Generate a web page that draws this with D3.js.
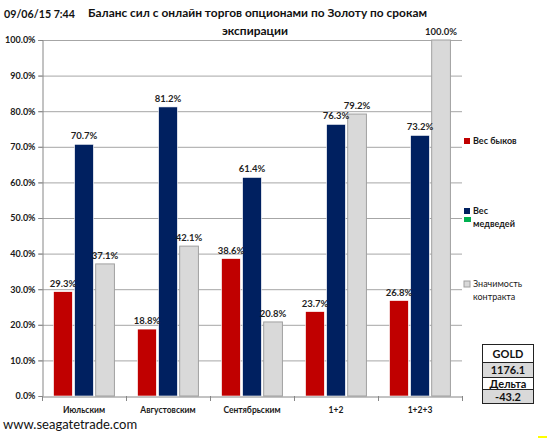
<!DOCTYPE html>
<html><head><meta charset="utf-8">
<script src="https://cdn.jsdelivr.net/npm/d3@7"></script>
<style>body{margin:0;background:#fff}svg{display:block}text{font-family:Lato,"Liberation Sans",sans-serif}</style>
</head><body>
<script>
const categories = ["Июльским","Августовским","Сентябрьским","1+2","1+2+3"];
const bulls = [29.3, 18.8, 38.6, 23.7, 26.8];
const bears = [70.7, 81.2, 61.4, 76.3, 73.2];
const significance = [37.1, 42.1, 20.8, 79.2, 100.0];
const seriesNames = ["Вес быков","Вес медведей","Значимость контракта"];
const yTicks = [0,10,20,30,40,50,60,70,80,90,100];
const goldTable = ["GOLD","1176.1","Дельта","-43.2"];

const W=550,H=440;
const svg=d3.select("body").append("svg").attr("width",W).attr("height",H);
const x0=42,x1=462,yTop=40,yBot=396;
const x=d3.scaleBand().domain(categories).range([x0,x1]).paddingInner(0).paddingOuter(0);
const xs=d3.scaleBand().domain([0,1,2]).range([0,x.bandwidth()]).paddingInner(0.11).paddingOuter(0.55);
const y=d3.scaleLinear().domain([0,100]).range([yBot,yTop]);

// gridlines
svg.append("g").selectAll("line").data(yTicks.filter(d=>d>0)).join("line")
 .attr("x1",x0-4).attr("x2",x1).attr("y1",d=>y(d)+0.5).attr("y2",d=>y(d)+0.5)
 .attr("stroke","#a6a6a6").attr("stroke-width",1);

// y axis
const yAx=svg.append("g").attr("transform",`translate(${x0+0.5},0)`)
 .call(d3.axisLeft(y).tickValues(yTicks).tickSize(4).tickFormat(d=>d.toFixed(1)+"%"));
yAx.select(".domain").attr("stroke","#868686");
yAx.selectAll(".tick line").attr("stroke","#868686");
yAx.selectAll(".tick text").attr("font-size",9).attr("font-weight","bold").attr("fill","#1a1a1a")
 .attr("font-family","Lato,'Liberation Sans',sans-serif").attr("x",-7);

// bars
const colors=["#c00000","#002060","#d9d9d9"];
const data=categories.map((c,i)=>[bulls[i],bears[i],significance[i]]);
const groups=svg.append("g").selectAll("g").data(data).join("g")
 .attr("transform",(d,i)=>`translate(${x(categories[i])},0)`);
groups.selectAll("rect").data(d=>d).join("rect")
 .attr("x",(d,j)=>xs(j)).attr("width",xs.bandwidth())
 .attr("y",d=>y(d)).attr("height",d=>yBot-y(d))
 .attr("fill",(d,j)=>colors[j])
 .attr("stroke",(d,j)=>j==2?"#a0a0a0":"#ffffff").attr("stroke-width",(d,j)=>j==2?1:0.6);
groups.selectAll("text").data(d=>d).join("text")
 .attr("x",(d,j)=>xs(j)+xs.bandwidth()/2).attr("y",d=>y(d)-5)
 .attr("text-anchor","middle").attr("font-size",9.5).attr("font-weight","bold").attr("fill","#1f1f1f")
 .text(d=>d.toFixed(1)+"%");

// x axis
const xAx=svg.append("g").attr("transform",`translate(0,${yBot+0.5})`)
 .call(d3.axisBottom(x).tickSize(0).tickPadding(10));
xAx.select(".domain").attr("stroke","#868686");
xAx.selectAll(".tick text").attr("font-size",8.5).attr("font-weight","bold").attr("fill","#1a1a1a")
 .attr("font-family","Lato,'Liberation Sans',sans-serif");
svg.append("g").selectAll("line").data(d3.range(categories.length+1)).join("line")
 .attr("x1",i=>x0+i*x.bandwidth()+0.5).attr("x2",i=>x0+i*x.bandwidth()+0.5)
 .attr("y1",yBot).attr("y2",yBot+5).attr("stroke","#868686");

// titles
svg.append("text").attr("x",4).attr("y",18).attr("font-size",12).attr("font-weight","bold").attr("fill","#111")
 .attr("textLength",71).attr("lengthAdjust","spacingAndGlyphs").text("09/06/15 7:44");
svg.append("text").attr("x",88).attr("y",17).attr("font-size",12).attr("font-weight","bold").attr("fill","#111")
 .attr("textLength",339).attr("lengthAdjust","spacingAndGlyphs")
 .text("Баланс сил с онлайн торгов опционами  по Золоту по срокам");
svg.append("text").attr("x",255).attr("y",35).attr("text-anchor","middle").attr("font-size",12).attr("font-weight","bold").attr("fill","#111")
 .text("экспирации");

// legend
const leg=[{c:colors[0],y:141,lines:["Вес быков"]},{c:colors[1],y:211,lines:["Вес","медведей"]},{c:"#d9d9d9",y:284,lines:["Значимость","контракта"],s:"#a0a0a0"}];
leg.forEach(l=>{
 svg.append("rect").attr("x",464).attr("y",l.y-3).attr("width",6).attr("height",6).attr("fill",l.c).attr("stroke",l.s||"none");
 l.lines.forEach((t,k)=>svg.append("text").attr("x",473).attr("y",l.y+3+k*13).attr("font-size",9).attr("font-weight",l.c===colors[2]?"normal":"bold").attr("fill","#1a1a1a").text(t));
});
svg.append("rect").attr("x",464).attr("y",217).attr("width",7).attr("height",5).attr("fill","#00b050");

// gold table
const rowsY=[344,362,377,389,403];
goldTable.forEach((t,i)=>{
 svg.append("rect").attr("x",482.5).attr("y",rowsY[i]+0.5).attr("width",51).attr("height",rowsY[i+1]-rowsY[i])
  .attr("fill",i%2?"#d9d9d9":"#fff").attr("stroke","#222").attr("stroke-width",1);
 svg.append("text").attr("x",508).attr("y",(rowsY[i]+rowsY[i+1])/2+4.5).attr("text-anchor","middle")
  .attr("font-size",11).attr("font-weight","bold").attr("fill","#111").text(t);
});

svg.append("text").attr("x",3).attr("y",429).attr("font-size",13).attr("fill","#111").text("www.seagatetrade.com");
svg.append("line").attr("x1",538).attr("x2",547).attr("y1",437).attr("y2",437).attr("stroke","#ffff00").attr("stroke-width",2);
</script>
</body></html>
